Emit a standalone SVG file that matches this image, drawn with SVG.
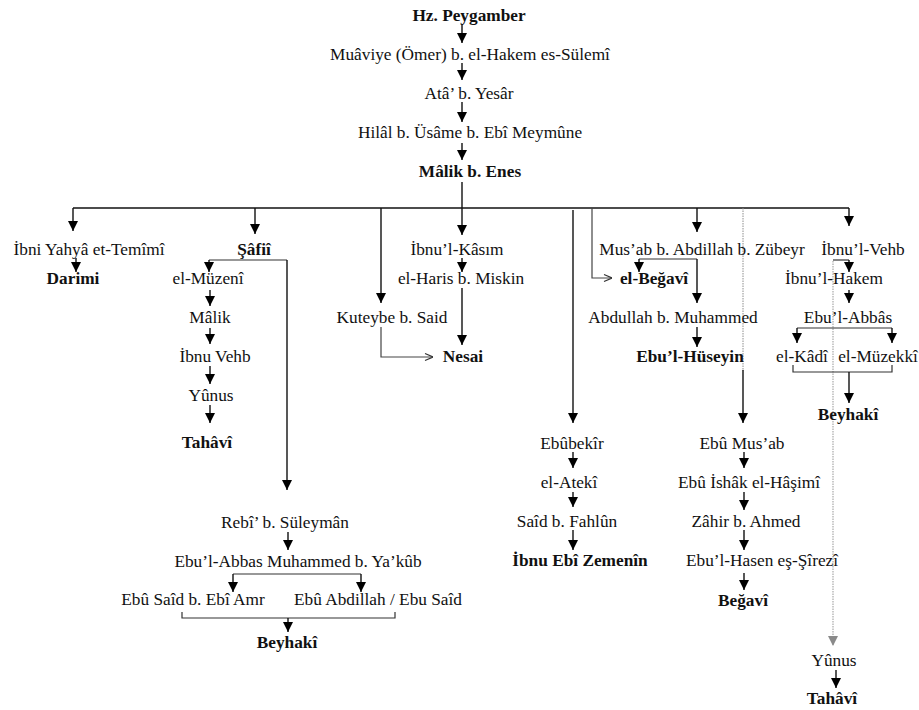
<svg xmlns="http://www.w3.org/2000/svg" width="919" height="710" viewBox="0 0 919 710">
<defs>
<marker id="ah" viewBox="0 0 10 10" refX="10" refY="5" markerWidth="10" markerHeight="10" markerUnits="userSpaceOnUse" orient="auto"><path d="M0,0 L10,5 L0,10 z" fill="#000"/></marker>
<marker id="ahg" viewBox="0 0 10 10" refX="10" refY="5" markerWidth="10" markerHeight="10" markerUnits="userSpaceOnUse" orient="auto"><path d="M0,0 L10,5 L0,10 z" fill="#8a8a8a"/></marker>
<marker id="ao" viewBox="0 0 10 10" refX="10" refY="5" markerWidth="10" markerHeight="10" markerUnits="userSpaceOnUse" orient="auto"><path d="M2,1.5 L10,5 L2,8.5" fill="none" stroke="#333" stroke-width="1.2"/></marker>
</defs>
<style>
text{font-family:"Liberation Serif","Times New Roman",serif;font-size:17.3px;fill:#111;text-anchor:middle}
.b{font-weight:bold}
.c path{fill:none;stroke:#111;stroke-width:1.4}
.c .a{marker-end:url(#ah)}
.c .o{marker-end:url(#ao);stroke:#444;stroke-width:1.2}
.c .g{stroke:#a0a0a0;stroke-width:1.1;stroke-dasharray:1.5 1;marker-end:url(#ahg)}
.c .t{stroke:#8c8c8c;stroke-width:1;stroke-dasharray:1.5 1}
.c .br{stroke:#333;stroke-width:1.2}
</style>
<rect width="919" height="710" fill="#fff"/>
<g class="c" id="connectors">
<path class="a" d="M462,25 V43"/>
<path class="a" d="M462,63 V80"/>
<path class="a" d="M462,102 V122"/>
<path class="a" d="M462,143 V160"/>
<path d="M462,182 V208"/>
<path d="M73,208 H849"/>
<path class="a" d="M73,208 V231"/>
<path class="a" d="M255,208 V234"/>
<path class="a" d="M381,208 V303"/>
<path class="a" d="M462,208 V235"/>
<path class="a" d="M573,210 V423"/>
<path class="o" d="M592,208 V278 H612"/>
<path class="a" d="M697,208 V232"/>
<path class="t" d="M743,208 V371"/>
<path class="a" d="M743,370 V423"/>
<path class="a" d="M849,208 V226"/>
<path class="a" d="M76,258 V272"/>
<path class="br" d="M287,260 H209"/>
<path class="a" d="M209,260 V272"/>
<path class="a" d="M287,260 V490"/>
<path class="a" d="M210,290 V306"/>
<path class="a" d="M210,328 V344"/>
<path class="a" d="M210,366 V384"/>
<path class="a" d="M210,405 V423"/>
<path class="a" d="M462,258 V272"/>
<path class="a" d="M462,288 V345"/>
<path class="o" d="M381,327 V357 H433"/>
<path class="br" d="M697,259 H639"/>
<path class="a" d="M639,259 V272"/>
<path class="a" d="M697,259 V303"/>
<path class="a" d="M697,327 V347"/>
<path class="br" d="M833,260 H849"/>
<path class="a" d="M849,260 V272"/>
<path class="g" d="M833,261 V646"/>
<path class="a" d="M849,290 V303"/>
<path class="br" d="M797,328 H892"/>
<path class="a" d="M797,328 V343"/>
<path class="a" d="M892,328 V343"/>
<path class="br" d="M793,365 V372 H892 V365"/>
<path class="a" d="M849,372 V403"/>
<path class="a" d="M573,452 V468"/>
<path class="a" d="M573,492 V507"/>
<path class="a" d="M573,530 V550"/>
<path class="a" d="M744,452 V468"/>
<path class="a" d="M744,492 V510"/>
<path class="a" d="M744,530 V550"/>
<path class="a" d="M744,573 V590"/>
<path class="a" d="M836,670 V688"/>
<path class="a" d="M288,532 V550"/>
<path class="br" d="M233,574 H361"/>
<path class="a" d="M233,574 V592"/>
<path class="a" d="M361,574 V592"/>
<path class="br" d="M182,612 V618 H395 V612"/>
<path class="a" d="M288,618 V632"/>
</g>
<g id="n-peygamber"><text class="b" x="469" y="21">Hz. Peygamber</text></g>
<g id="n-muaviye"><text x="470" y="60">Muâviye (Ömer) b. el-Hakem es-Sülemî</text></g>
<g id="n-ata"><text x="469" y="99">Atâ’ b. Yesâr</text></g>
<g id="n-hilal"><text x="470" y="138">Hilâl b. Üsâme b. Ebî Meymûne</text></g>
<g id="n-malik-enes"><text class="b" x="470" y="177">Mâlik b. Enes</text></g>
<g id="n-ibni-yahya"><text x="89" y="255">İbni Yahyâ et-Temîmî</text></g>
<g id="n-safii"><text class="b" x="254" y="255">Şâfiî</text></g>
<g id="n-ibnul-kasim"><text x="457" y="255">İbnu’l-Kâsım</text></g>
<g id="n-musab"><text x="702" y="255">Mus’ab b. Abdillah b. Zübeyr</text></g>
<g id="n-ibnul-vehb"><text x="863" y="255">İbnu’l-Vehb</text></g>
<g id="n-darimi"><text class="b" x="73" y="284">Darimi</text></g>
<g id="n-muzeni"><text x="208" y="284">el-Müzenî</text></g>
<g id="n-haris"><text x="461" y="284">el-Haris b. Miskin</text></g>
<g id="n-el-begavi"><text class="b" x="654" y="284">el-Beğavî</text></g>
<g id="n-ibnul-hakem"><text x="834" y="284">İbnu’l-Hakem</text></g>
<g id="n-malik"><text x="210" y="323">Mâlik</text></g>
<g id="n-kuteybe"><text x="392" y="323">Kuteybe b. Said</text></g>
<g id="n-abdullah"><text x="673" y="323">Abdullah b. Muhammed</text></g>
<g id="n-ebul-abbas-r"><text x="848" y="323">Ebu’l-Abbâs</text></g>
<g id="n-ibnu-vehb"><text x="215" y="362">İbnu Vehb</text></g>
<g id="n-nesai"><text class="b" x="463" y="362">Nesai</text></g>
<g id="n-ebul-huseyin"><text class="b" x="690" y="362">Ebu’l-Hüseyin</text></g>
<g id="n-kadi"><text x="802" y="362">el-Kâdî</text></g>
<g id="n-muzekki"><text x="878" y="362">el-Müzekkî</text></g>
<g id="n-yunus-l"><text x="211" y="401">Yûnus</text></g>
<g id="n-beyhaki-r"><text class="b" x="848" y="420">Beyhakî</text></g>
<g id="n-tahavi-l"><text class="b" x="207" y="448">Tahâvî</text></g>
<g id="n-ebubekir"><text x="572" y="449">Ebûbekîr</text></g>
<g id="n-ebu-musab"><text x="742" y="449">Ebû Mus’ab</text></g>
<g id="n-ateki"><text x="569" y="488">el-Atekî</text></g>
<g id="n-ebu-ishak"><text x="749" y="488">Ebû İshâk el-Hâşimî</text></g>
<g id="n-rebi"><text x="285" y="528">Rebî’ b. Süleymân</text></g>
<g id="n-said-fahlun"><text x="567" y="527">Saîd b. Fahlûn</text></g>
<g id="n-zahir"><text x="746" y="527">Zâhir b. Ahmed</text></g>
<g id="n-ebul-abbas-m"><text x="298" y="567">Ebu’l-Abbas Muhammed b. Ya’kûb</text></g>
<g id="n-ibnu-ebi-zemenin"><text class="b" x="580" y="566">İbnu Ebî Zemenîn</text></g>
<g id="n-ebul-hasen"><text x="762" y="566">Ebu’l-Hasen eş-Şîrezî</text></g>
<g id="n-ebu-said"><text x="193" y="605">Ebû Saîd b. Ebî Amr</text></g>
<g id="n-ebu-abdillah"><text x="378" y="605">Ebû Abdillah / Ebu Saîd</text></g>
<g id="n-begavi"><text class="b" x="743" y="606">Beğavî</text></g>
<g id="n-beyhaki-l"><text class="b" x="287" y="648">Beyhakî</text></g>
<g id="n-yunus-r"><text x="834" y="666">Yûnus</text></g>
<g id="n-tahavi-r"><text class="b" x="832" y="704">Tahâvî</text></g>
</svg>
